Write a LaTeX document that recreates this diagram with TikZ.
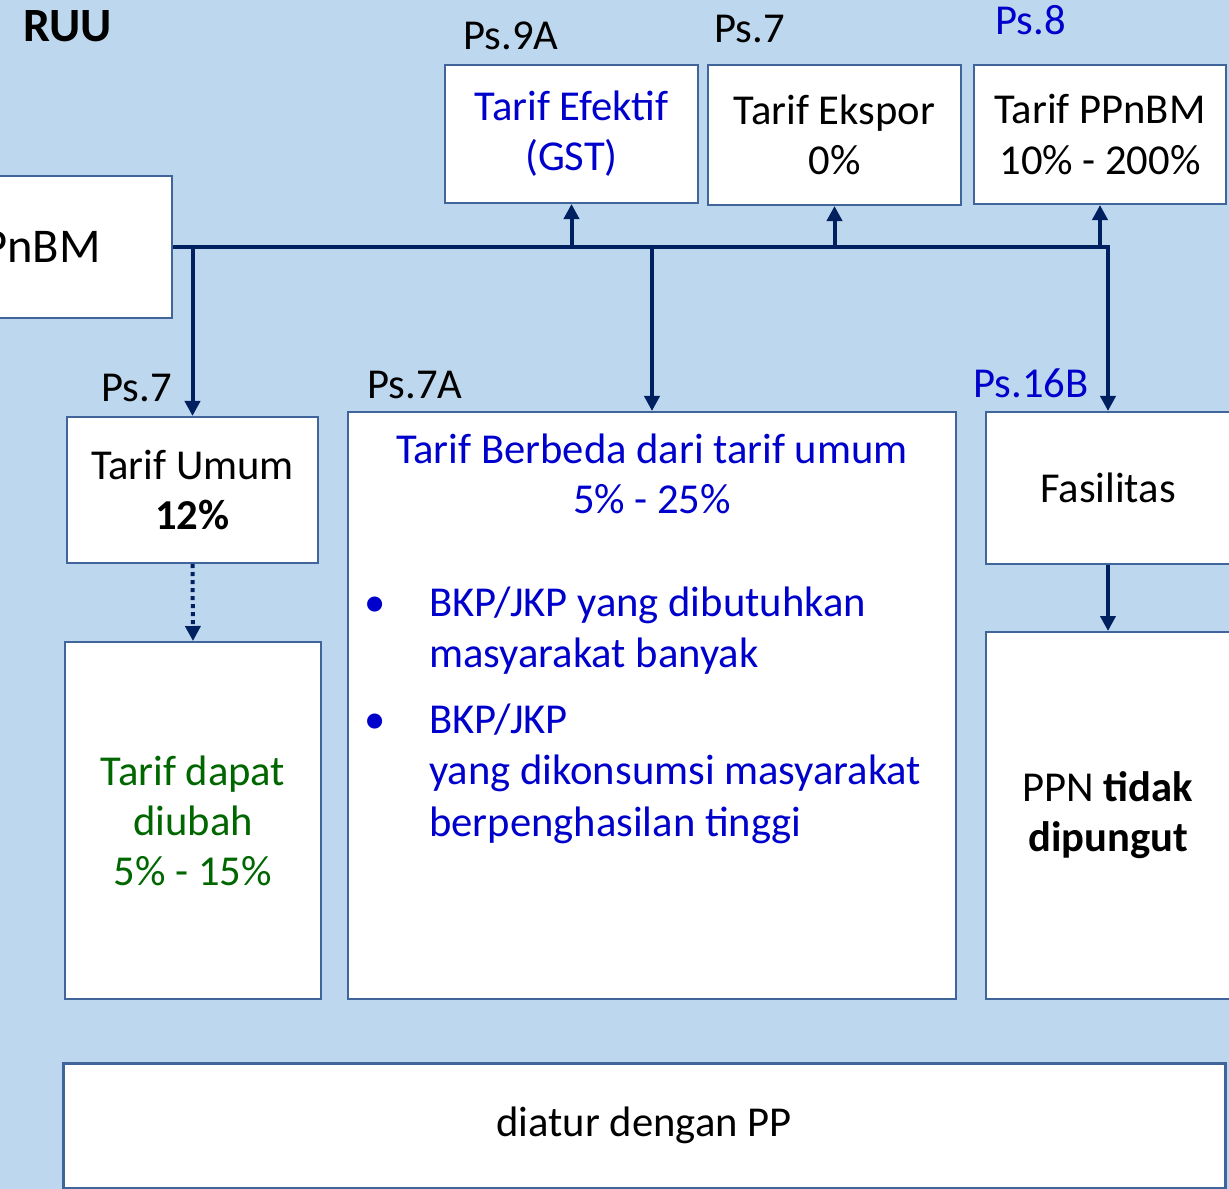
\documentclass[tikz,border=0pt]{standalone}
\usepackage{fontspec}
\setmainfont{Carlito}
\usetikzlibrary{arrows.meta}

\definecolor{bgblue}{HTML}{BDD7EE}
\definecolor{boxline}{HTML}{3F659B}
\definecolor{navy}{HTML}{002060}
\definecolor{txtblue}{HTML}{0000CC}
\definecolor{txtgreen}{HTML}{006600}

\newlength\pxu
\setlength\pxu{0.025cm}
\newcommand{\bodytxt}{\fontsize{30.3pt}{35.6pt}\selectfont}

\tikzset{
  box/.style={draw=boxline, line width=0.05cm, fill=white, inner sep=0pt,
              align=center, font=\bodytxt},
  lbl/.style={anchor=base west, inner sep=0pt, font=\bodytxt},
  line/.style={anchor=base, inner sep=0pt, font=\bodytxt},
  conn/.style={draw=navy, line width=0.1cm,
               -{Triangle[length=0.375cm, width=0.375cm]}},
  dotconn/.style={conn, dash pattern=on 0.1cm off 0.1cm},
}

\begin{document}
\begin{tikzpicture}[x=0.025cm, y=-0.025cm]
  \useasboundingbox (0,0) rectangle (1229,1189);
  \clip (0,0) rectangle (1229,1189);
  \fill[bgblue] (0,0) rectangle (1229,1189);

  \node[anchor=base west, inner sep=0pt,
        font=\fontsize{34pt}{40pt}\selectfont\bfseries] (ruu) at (23,42) {RUU};

  % source box on the left
  \node[box, minimum width=472\pxu, minimum height=142\pxu] (L) at (-64,247) {};
  \node[anchor=base east, inner sep=0pt, font=\fontsize{34.5pt}{42pt}\selectfont]
        (Ltxt) at (101,262) {PnBM};

  % top row
  \node[box, minimum width=253\pxu, minimum height=138\pxu, text=txtblue]
        (T1) at (571.5,134) {Tarif Efektif\\(GST)};
  \node[box, minimum width=253\pxu, minimum height=140\pxu]
        (T2) at (834.5,135) {Tarif Ekspor\\0\%};
  \node[box, minimum width=252\pxu, minimum height=139\pxu]
        (T3) at (1100,134.5) {Tarif PPnBM\\10\% - 200\%};

  \node[lbl] (p9a) at (463,50) {Ps.9A};
  \node[lbl] (p7t) at (714,43) {Ps.7};
  \node[lbl, text=txtblue] (p8) at (995,35) {Ps.8};

  % second row
  \node[box, minimum width=251\pxu, minimum height=146\pxu]
        (U) at (192.5,490) {Tarif Umum\\\textbf{12\%}};
  \node[box, minimum width=608\pxu, minimum height=587\pxu] (M) at (652,705.5) {};
  \node[box, minimum width=244\pxu, minimum height=152\pxu]
        (F) at (1108,488) {Fasilitas};

  \node[lbl] (p7) at (101,401) {Ps.7};
  \node[lbl] (p7a) at (367,398) {Ps.7A};
  \node[lbl, text=txtblue] (p16b) at (973,397) {Ps.16B};

  % contents of the middle box
  \begin{scope}[every node/.append style={text=txtblue}]
    \node[line] (m1) at (652,463) {Tarif Berbeda dari tarif umum};
    \node[line] (m2) at (652,513) {5\% - 25\%};
    \node[line] (b1) at (375,616) {•};
    \node[line] (b2) at (375,733) {•};
    \node[lbl] (m3) at (429,616) {BKP/JKP yang dibutuhkan};
    \node[lbl] (m4) at (429,667) {masyarakat banyak};
    \node[lbl] (m5) at (429,733) {BKP/JKP};
    \node[lbl] (m6) at (429,784) {yang dikonsumsi masyarakat};
    \node[lbl] (m7) at (429,836) {berpenghasilan tinggi};
  \end{scope}

  % third row
  \node[box, minimum width=256\pxu, minimum height=357\pxu, text=txtgreen]
        (G) at (193,820.5) {Tarif dapat\\diubah\\5\% - 15\%};
  \node[box, minimum width=244\pxu, minimum height=367\pxu]
        (P) at (1108,815.5) {PPN \textbf{tidak}\\\textbf{dipungut}};

  % bottom box
  \node[box, line width=0.075cm, minimum width=1162\pxu, minimum height=125\pxu]
        (B) at (644,1125.5) {diatur dengan PP};

  % connectors
  \coordinate (j) at (F.north |- L.east);
  \draw[conn] (L.east) -- (j) -- (F.north);
  \draw[conn] (L.east -| T1.south) -- (T1.south);
  \draw[conn] (L.east -| T2.south) -- (T2.south);
  \draw[conn] (L.east -| T3.south) -- (T3.south);
  \draw[conn] (L.east -| U.north) -- (U.north);
  \draw[conn] (L.east -| M.north) -- (M.north);
  \draw[dotconn] (U.south) -- (G.north);
  \draw[conn] (F.south) -- (P.north);
\end{tikzpicture}
\end{document}
